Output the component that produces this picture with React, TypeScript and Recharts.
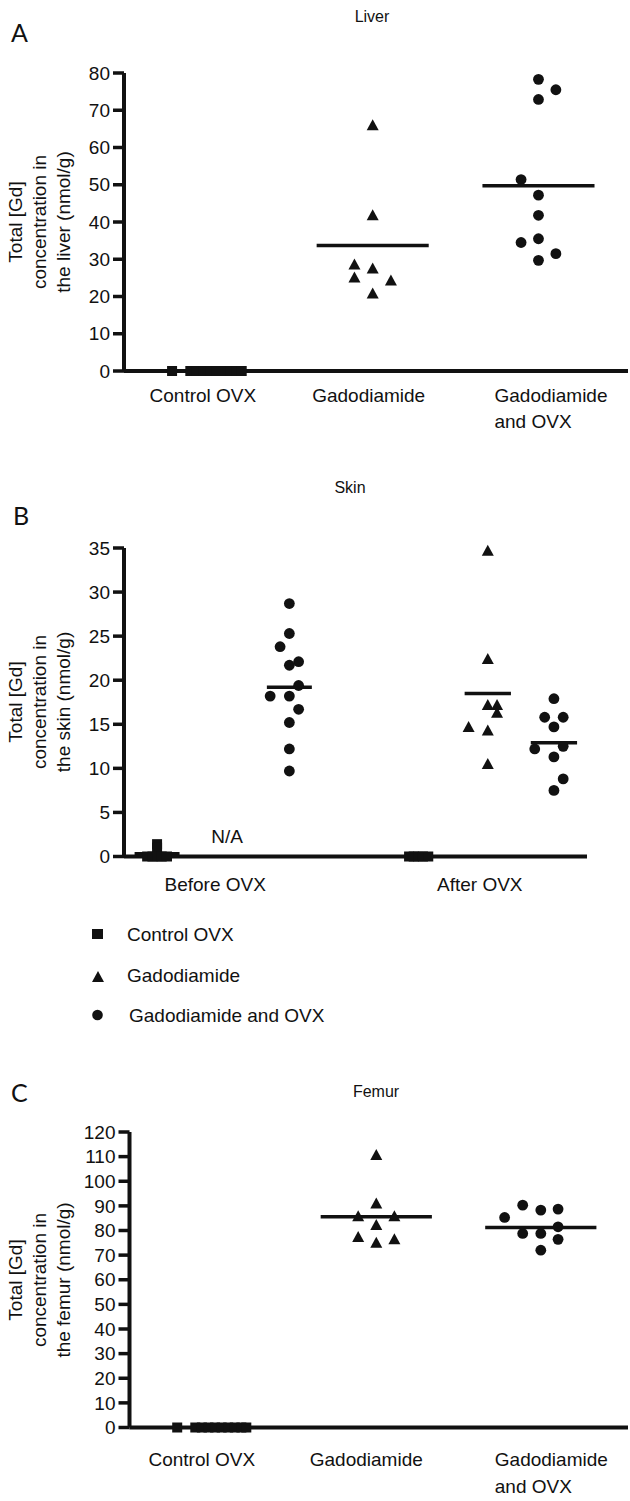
import React from 'react';
import { ScatterChart, Scatter, XAxis, YAxis, ReferenceLine, ReferenceDot } from 'recharts';

const FONT = '"Liberation Sans", Arial, Helvetica, sans-serif';
const INK = '#111';

// A – liver
const liverGroups = ['Control OVX', 'Gadodiamide', 'Gadodiamide\nand OVX'];
const liverTicks = [0, 10, 20, 30, 40, 50, 60, 70, 80];
const liverControl = [0, 0, 0, 0, 0, 0, 0, 0, 0, 0];
const liverGado = [66.0, 41.8, 28.6, 27.5, 25.1, 24.3, 20.8];
const liverGadoOvx = [78.3, 75.5, 72.9, 51.4, 47.2, 41.8, 35.5, 34.5, 31.5, 29.7];
const liverMeans = [33.7, 49.7];

// B – skin
const skinGroups = ['Before OVX', 'After OVX'];
const skinTicks = [0, 5, 10, 15, 20, 25, 30, 35];
const skinControlBefore = [1.4, 1.0, 0, 0, 0, 0, 0];
const skinControlAfter = [0, 0, 0, 0, 0];
const skinGadoAfter = [34.7, 22.4, 17.2, 17.2, 16.3, 14.7, 14.3, 10.5];
const skinGadoOvxBefore = [28.7, 25.3, 23.8, 22.1, 21.7, 19.4, 18.2, 18.2, 16.7, 15.2, 12.2, 9.7];
const skinGadoOvxAfter = [17.9, 15.8, 15.8, 14.7, 12.5, 12.2, 11.3, 8.8, 7.5];
const skinMeans = [0.3, 19.2, 18.5, 12.9]; // control before, gado+OVX before, gado after, gado+OVX after

// C – femur
const femurGroups = ['Control OVX', 'Gadodiamide', 'Gadodiamide\nand OVX'];
const femurTicks = [0, 10, 20, 30, 40, 50, 60, 70, 80, 90, 100, 110, 120];
const femurControl = [0, 0, 0, 0, 0, 0, 0, 0, 0, 0];
const femurGado = [110.7, 91.0, 85.8, 85.8, 82.2, 77.4, 76.4, 75.0];
const femurGadoOvx = [90.3, 88.3, 88.7, 85.3, 81.5, 78.8, 78.8, 76.4, 72.0];
const femurMeans = [85.6, 81.2];

const legendItems = ['Control OVX', 'Gadodiamide', 'Gadodiamide and OVX'];

// horizontal scatter of the dots inside each group (x units)
const controlSpread = [-0.21, -0.1, -0.06, -0.02, 0.02, 0.06, 0.1, 0.14, 0.18, 0.21];
const liverGadoSpread = [0, 0, -0.11, 0, -0.11, 0.11, 0];
const liverGadoOvxSpread = [0, 0.105, 0, -0.105, 0, 0, 0, -0.105, 0.105, 0];
const skinControlBeforeSpread = [0, 0, -0.15, -0.07, 0, 0.07, 0.15];
const skinControlAfterSpread = [-0.19, -0.12, -0.05, 0.02, 0.1];
const skinGadoAfterSpread = [0, 0, 0, 0.14, 0.14, -0.29, 0, 0];
const skinGadoOvxBeforeSpread = [0, 0, -0.14, 0.14, 0, 0.14, -0.29, 0, 0.14, 0, 0, 0];
const skinGadoOvxAfterSpread = [0, -0.14, 0.14, 0, 0.14, -0.29, 0, 0.14, 0];
const femurGadoSpread = [0, 0, -0.11, 0.11, 0, -0.11, 0.11, 0];
const femurGadoOvxSpread = [-0.11, 0, 0.105, -0.22, 0.105, -0.11, 0, 0.105, 0];

type Pt = { x: number; y: number };
const place = (values: number[], spread: number[], pos: number): Pt[] =>
  values.map((v, i) => ({ x: pos + spread[i], y: v }));

const SquareDot = (p: any) => <rect x={p.cx - 5} y={p.cy - 5} width={10} height={10} fill={INK} />;
const TriangleDot = (p: any) => (
  <polygon points={`${p.cx},${p.cy - 6} ${p.cx + 6},${p.cy + 5} ${p.cx - 6},${p.cy + 5}`} fill={INK} />
);
const CircleDot = (p: any) => <circle cx={p.cx} cy={p.cy} r={5.4} fill={INK} />;

const AXIS = { stroke: INK, strokeWidth: 4 };
const TICK = { stroke: INK, strokeWidth: 3.5 };
const TICK_TEXT = { fontSize: 19, fill: INK, fontFamily: FONT };

const makeTick =
  (labels: string[], at: number[], dy: number, dx: number, wrapShift: number, gap: number) =>
  (p: any) => {
    const i = at.indexOf(p.payload.value);
    const lines = (labels[i] ?? '').split('\n');
    const multi = lines.length > 1;
    const tx = p.x + (multi ? wrapShift : dx);
    return (
      <text x={tx} y={p.y + dy} textAnchor={multi ? 'start' : 'middle'} fontSize={19} fontFamily={FONT} fill={INK}>
        {lines.map((l, k) => (
          <tspan key={k} x={tx} dy={k ? gap : 0}>
            {l}
          </tspan>
        ))}
      </text>
    );
  };

const meanLine = (pos: number, value: number, half: number, key: string) => (
  <ReferenceLine
    key={key}
    segment={[
      { x: pos - half, y: value },
      { x: pos + half, y: value },
    ]}
    stroke={INK}
    strokeWidth={3.5}
  />
);

const TitleLines = ({ lines, cy }: { lines: string[]; cy: number }) => (
  <g>
    {lines.map((t, i) => {
      const x = [22, 46, 70][i];
      return (
        <text key={t} x={x} y={cy} transform={`rotate(-90 ${x} ${cy})`} textAnchor="middle" fontSize={19} fontFamily={FONT} fill={INK}>
          {t}
        </text>
      );
    })}
  </g>
);

export default function App() {
  return (
    <div style={{ position: 'absolute', left: 0, top: 0, width: 630, height: 1501, background: '#fff', overflow: 'hidden' }}>
      {/* A – liver */}
      <div style={{ position: 'absolute', left: 0, top: 0 }}>
        <ScatterChart width={630} height={440} margin={{ top: 73, right: 2, bottom: 0, left: 0 }}>
          <XAxis type="number" dataKey="x" domain={[0.5, 3.54]} ticks={[1, 2, 3]} height={69} axisLine={AXIS}
            tickLine={false} tickSize={0} tickMargin={0} tick={makeTick(liverGroups, [1, 2, 3], 31, -4, -44, 26)} allowDataOverflow />
          <YAxis type="number" dataKey="y" domain={[0, 80]} ticks={liverTicks} interval={0} width={124} axisLine={AXIS}
            tickLine={TICK} tickSize={11} tickMargin={3} tick={TICK_TEXT} />
          {meanLine(2, liverMeans[0], 0.338, 'a1')}
          {meanLine(3, liverMeans[1], 0.338, 'a2')}
          <Scatter data={place(liverControl, controlSpread, 1)} shape={SquareDot} isAnimationActive={false} />
          <Scatter data={place(liverGado, liverGadoSpread, 2)} shape={TriangleDot} isAnimationActive={false} />
          <Scatter data={place(liverGadoOvx, liverGadoOvxSpread, 3)} shape={CircleDot} isAnimationActive={false} />
        </ScatterChart>
      </div>

      {/* B – skin */}
      <div style={{ position: 'absolute', left: 0, top: 440 }}>
        <ScatterChart width={630} height={470} margin={{ top: 108, right: 43, bottom: 0, left: 0 }}>
          <XAxis type="number" dataKey="x" domain={[0.5, 7.5]} ticks={[2, 6]} height={53.5} axisLine={AXIS}
            tickLine={false} tickSize={0} tickMargin={0} tick={makeTick(skinGroups, [2, 6], 34, -8, 0, 26)} allowDataOverflow />
          <YAxis type="number" dataKey="y" domain={[0, 35]} ticks={skinTicks} interval={0} width={124} axisLine={AXIS}
            tickLine={TICK} tickSize={11} tickMargin={3} tick={TICK_TEXT} />
          {meanLine(1, skinMeans[0], 0.34, 'b0')}
          {meanLine(3, skinMeans[1], 0.34, 'b1')}
          {meanLine(6, skinMeans[2], 0.35, 'b2')}
          {meanLine(7, skinMeans[3], 0.35, 'b3')}
          <ReferenceDot x={2.06} y={1.5} r={0} fill="none" stroke="none"
            label={{ value: 'N/A', position: 'top', offset: 0, fontSize: 19, fontFamily: FONT, fill: INK }} />
          <Scatter data={[...place(skinControlBefore, skinControlBeforeSpread, 1), ...place(skinControlAfter, skinControlAfterSpread, 5)]}
            shape={SquareDot} isAnimationActive={false} />
          <Scatter data={place(skinGadoAfter, skinGadoAfterSpread, 6)} shape={TriangleDot} isAnimationActive={false} />
          <Scatter data={[...place(skinGadoOvxBefore, skinGadoOvxBeforeSpread, 3), ...place(skinGadoOvxAfter, skinGadoOvxAfterSpread, 7)]}
            shape={CircleDot} isAnimationActive={false} />
        </ScatterChart>
      </div>

      {/* C – femur */}
      <div style={{ position: 'absolute', left: 0, top: 1040 }}>
        <ScatterChart width={630} height={461} margin={{ top: 92, right: 2, bottom: 0, left: 0 }}>
          <XAxis type="number" dataKey="x" domain={[0.5, 3.53]} ticks={[1, 2, 3]} height={73.5} axisLine={AXIS}
            tickLine={false} tickSize={0} tickMargin={0} tick={makeTick(femurGroups, [1, 2, 3], 38.5, -10, -46, 27)} allowDataOverflow />
          <YAxis type="number" dataKey="y" domain={[0, 120]} ticks={femurTicks} interval={0} width={129.5} axisLine={AXIS}
            tickLine={TICK} tickSize={11} tickMargin={3} tick={TICK_TEXT} />
          {meanLine(2, femurMeans[0], 0.338, 'c1')}
          {meanLine(3, femurMeans[1], 0.338, 'c2')}
          <Scatter data={place(femurControl, controlSpread, 1)} shape={SquareDot} isAnimationActive={false} />
          <Scatter data={place(femurGado, femurGadoSpread, 2)} shape={TriangleDot} isAnimationActive={false} />
          <Scatter data={place(femurGadoOvx, femurGadoOvxSpread, 3)} shape={CircleDot} isAnimationActive={false} />
        </ScatterChart>
      </div>

      {/* letters, titles, y-axis titles and the legend */}
      <svg width={630} height={1501} style={{ position: 'absolute', left: 0, top: 0, pointerEvents: 'none' }}>
        <g fontFamily={FONT} fill={INK}>
          <text x={11} y={42} fontSize={25} fontFamily="Lato, sans-serif">A</text>
          <text x={372} y={22} fontSize={16} textAnchor="middle">Liver</text>
          <TitleLines lines={['Total [Gd]', 'concentration in', 'the liver (nmol/g)']} cy={222} />

          <text x={13} y={525} fontSize={25} fontFamily="Lato, sans-serif">B</text>
          <text x={350} y={493} fontSize={16} textAnchor="middle">Skin</text>
          <TitleLines lines={['Total [Gd]', 'concentration in', 'the skin (nmol/g)']} cy={702} />

          <rect x={92} y={929} width={11} height={10} />
          <text x={127} y={941} fontSize={19}>{legendItems[0]}</text>
          <polygon points="98,971 104,982 92,982" />
          <text x={127} y={982} fontSize={19}>{legendItems[1]}</text>
          <circle cx={97.5} cy={1015} r={5.3} />
          <text x={129} y={1022} fontSize={19}>{legendItems[2]}</text>

          <text x={11} y={1102} fontSize={25} fontFamily="Lato, sans-serif">C</text>
          <text x={376} y={1097} fontSize={16} textAnchor="middle">Femur</text>
          <TitleLines lines={['Total [Gd]', 'concentration in', 'the femur (nmol/g)']} cy={1280} />
        </g>
      </svg>
    </div>
  );
}
